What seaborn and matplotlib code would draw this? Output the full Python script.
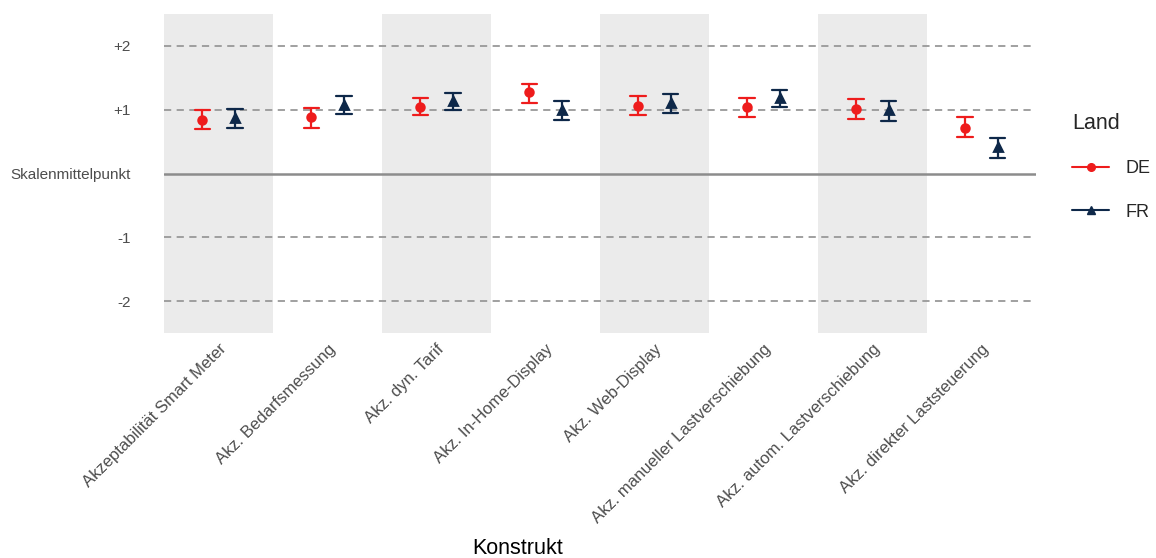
import matplotlib
matplotlib.use("Agg")
import matplotlib.pyplot as plt
from matplotlib.lines import Line2D
import seaborn as sns
import pandas as pd

# === Data ===
konstrukte = [
    "Akzeptabilität Smart Meter",
    "Akz. Bedarfsmessung",
    "Akz. dyn. Tarif",
    "Akz. In-Home-Display",
    "Akz. Web-Display",
    "Akz. manueller Lastverschiebung",
    "Akz. autom. Lastverschiebung",
    "Akz. direkter Laststeuerung",
]
laender = ["DE", "FR"]

de_mean = [0.84, 0.88, 1.05, 1.27, 1.06, 1.04, 1.01, 0.72]
de_low = [0.70, 0.72, 0.91, 1.11, 0.91, 0.89, 0.85, 0.57]
de_high = [1.00, 1.03, 1.19, 1.40, 1.21, 1.18, 1.16, 0.88]

fr_mean = [0.87, 1.08, 1.13, 1.00, 1.11, 1.18, 0.99, 0.42]
fr_low = [0.72, 0.93, 0.99, 0.84, 0.95, 1.04, 0.83, 0.24]
fr_high = [1.01, 1.22, 1.26, 1.14, 1.25, 1.31, 1.13, 0.56]

y_ticks = [-2, -1, 0, 1, 2]
y_labels = ["-2", "-1", "Skalenmittelpunkt", "+1", "+2"]

colors = {"DE": "#EE1C1C", "FR": "#0E2849"}

# long table: lower, mean, upper per cell -> median = mean, 100% interval = CI
rows = []
for land, lo, mid, hi in [("DE", de_low, de_mean, de_high), ("FR", fr_low, fr_mean, fr_high)]:
    for k, a, b, c in zip(konstrukte, lo, mid, hi):
        for v in (a, b, c):
            rows.append({"Konstrukt": k, "Land": land, "Wert": v})
df = pd.DataFrame(rows)

sns.set_theme(style="white")
plt.rcParams["font.family"] = ["Liberation Sans", "DejaVu Sans"]

fig, ax = plt.subplots(figsize=(11.56, 5.58), dpi=100)
fig.subplots_adjust(left=0.142, right=0.896, top=0.975, bottom=0.403)

# alternating grey bands
for i in range(0, len(konstrukte), 2):
    ax.axvspan(i - 0.5, i + 0.5, color="#EBEBEB", lw=0, zorder=0)

for y in [-2, -1, 1, 2]:
    ax.axhline(y, color="#999999", ls=(0, (4, 3)), lw=1.3, zorder=1)
ax.axhline(0, color="#8C8C8C", lw=1.8, zorder=1)

sns.pointplot(
    data=df, x="Konstrukt", y="Wert", hue="Land", order=konstrukte, hue_order=laender,
    estimator="median", errorbar=("pi", 100), dodge=0.3, markers=["o", "^"],
    linestyles="none", palette=colors, capsize=0.14, err_kws={"linewidth": 1.6},
    markersize=5.5, legend=False, ax=ax,
)

ax.set_xlim(-0.5, len(konstrukte) - 0.5)
ax.set_ylim(-2.5, 2.5)
ax.set_yticks(y_ticks)
ax.set_yticklabels(y_labels)
ax.set_ylabel("")
ax.tick_params(axis="y", length=0, labelsize=11, labelcolor="#4D4D4D", pad=24)
ax.tick_params(axis="x", length=0, labelsize=12, labelcolor="#4D4D4D", pad=6)
plt.setp(ax.get_xticklabels(), rotation=45, ha="right", rotation_mode="anchor")
ax.set_xlabel("Konstrukt", fontsize=15.5, color="black", va="center")
ax.xaxis.set_label_coords(0.406, -0.674)
for s in ax.spines.values():
    s.set_visible(False)

handles = [
    Line2D([], [], color=colors["DE"], marker="o", markersize=5.5, lw=1.5),
    Line2D([], [], color=colors["FR"], marker="^", markersize=5.5, lw=1.5),
]
leg = fig.legend(handles, laender, title="Land", loc="upper left",
                 bbox_to_anchor=(1056 / 1156, 1 - 97 / 558),
                 frameon=False, fontsize=13, title_fontsize=15.5, labelspacing=1.45,
                 handlelength=2.05, handletextpad=0.9, alignment="left")
leg._legend_box.align = "left"

fig.savefig("out.png", dpi=100)
